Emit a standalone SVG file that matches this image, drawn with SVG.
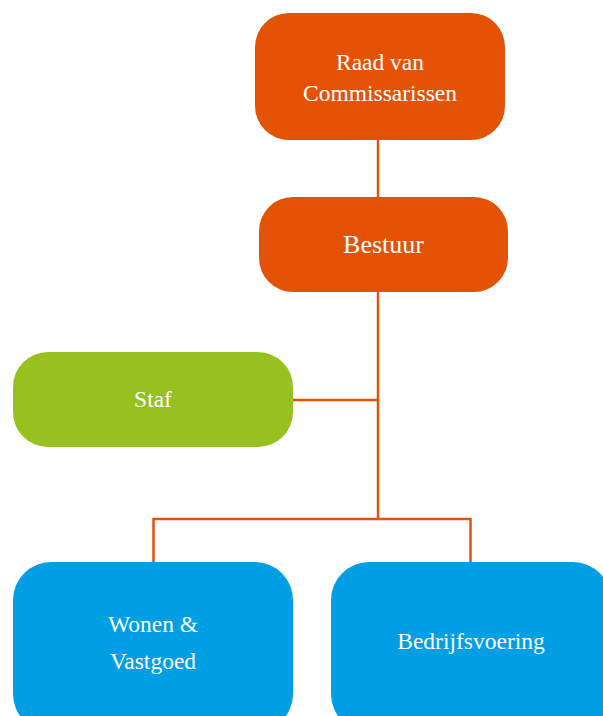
<svg xmlns="http://www.w3.org/2000/svg" width="603" height="716" viewBox="0 0 603 716">
<style>
.orange{fill:#E35205}
.green{fill:#97C11F}
.blue{fill:#009FE3}
.t{font-family:"Liberation Serif","DejaVu Serif",serif;font-size:23.5px;fill:#ffffff;text-anchor:middle}
.conn{fill:none;stroke:#E35205;stroke-width:2.5}
</style>
<rect width="603" height="716" fill="#ffffff"/>
<g id="connectors">
<line class="conn" x1="378" y1="140" x2="378" y2="197"/>
<polyline class="conn" points="378,292 378,519"/>
<line class="conn" x1="293" y1="400" x2="378" y2="400"/>
<polyline class="conn" points="153.5,562 153.5,519 470.5,519 470.5,562"/>
</g>
<g id="raad">
<rect class="orange" x="255" y="13" width="250" height="127" rx="34"/>
<text class="t" x="380" y="70">Raad van</text>
<text class="t" x="380" y="101">Commissarissen</text>
</g>
<g id="bestuur">
<rect class="orange" x="259" y="197" width="249" height="95" rx="34"/>
<text class="t" x="383.5" y="253" style="font-size:26px">Bestuur</text>
</g>
<g id="staf">
<rect class="green" x="13" y="352" width="280" height="95" rx="35"/>
<text class="t" x="153" y="407">Staf</text>
</g>
<g id="wonen">
<rect class="blue" x="13" y="562" width="280" height="170" rx="38"/>
<text class="t" x="153" y="632">Wonen &amp;</text>
<text class="t" x="153" y="669">Vastgoed</text>
</g>
<g id="bedrijfsvoering">
<rect class="blue" x="331" y="562" width="280" height="170" rx="38"/>
<text class="t" x="471" y="649">Bedrijfsvoering</text>
</g>
</svg>
